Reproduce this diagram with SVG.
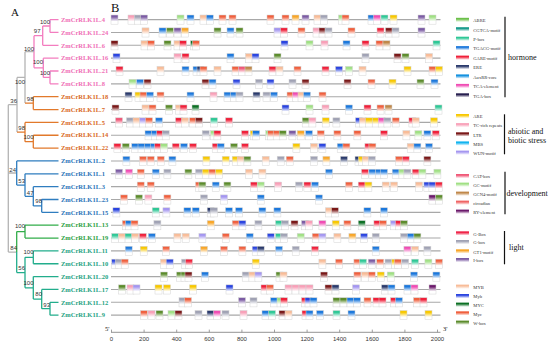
<svg xmlns="http://www.w3.org/2000/svg" width="550" height="344" viewBox="0 0 550 344">
<style>
.lb{font-family:"Liberation Serif","Times New Roman",serif;font-weight:bold;font-size:6.5px}
.cp{fill:#ef6fb6}.co{fill:#d9691c}.cb{fill:#2a74b8}.cg{fill:#2a9e3e}.ct{fill:#1ea282}
.bs{font-family:"Liberation Sans",Arial,sans-serif;font-size:6px;fill:#333;text-anchor:end}
.gl{stroke:#a8a8a8;stroke-width:1.1}
.tr{fill:none;stroke-width:1.3}
.sp{stroke:#f37dbf}.so{stroke:#e2792b}.sb{stroke:#2f7dbf}.sg{stroke:#32ad4a}.st{stroke:#22ad8c}.sy{stroke:#b4b4b4}
.lt{font-family:"Liberation Serif","Times New Roman",serif;font-size:4.6px;fill:#333}
.cat{font-family:"Liberation Serif","Times New Roman",serif;font-size:8px;fill:#111}
.br{stroke:#111;stroke-width:1.2}
.ax{font-family:"Liberation Sans",Arial,sans-serif;font-size:6px;fill:#333;text-anchor:middle}
.pl{font-family:"Liberation Serif","Times New Roman",serif;fill:#111}
.ab{fill:url(#g-ab)}.tl{fill:url(#g-tl)}.pb{fill:url(#g-pb)}.bl{fill:url(#g-bl)}.rd{fill:url(#g-rd)}.nv{fill:url(#g-nv)}.ax2{fill:url(#g-ax)}.pk{fill:url(#g-pk)}.dk{fill:url(#g-dk)}
.ye{fill:url(#g-ye)}.lp{fill:url(#g-lp)}.brn{fill:url(#g-br)}.sk{fill:url(#g-sk)}.lv{fill:url(#g-lv)}
.ca{fill:url(#g-ca)}.gc{fill:url(#g-gc)}.gn{fill:url(#g-gn)}.ci{fill:url(#g-ci)}.ry{fill:url(#g-ry)}
.gB{fill:url(#g-gB)}.gx{fill:url(#g-gx)}.gt{fill:url(#g-gt)}.ib{fill:url(#g-ib)}
.my{fill:url(#g-my)}.mb{fill:url(#g-mb)}.mc{fill:url(#g-mc)}.mr{fill:url(#g-mr)}.wb{fill:url(#g-wb)}
</style>
<defs>
<linearGradient id="g-ab" x2="0" y2="1"><stop offset="0" stop-color="#6cc04a"/><stop offset=".2" stop-color="#6cc04a"/><stop offset=".7" stop-color="#fff"/></linearGradient>
<linearGradient id="g-tl" x2="0" y2="1"><stop offset="0" stop-color="#14998a"/><stop offset=".2" stop-color="#14998a"/><stop offset=".7" stop-color="#fff"/></linearGradient>
<linearGradient id="g-pb" x2="0" y2="1"><stop offset="0" stop-color="#2fc896"/><stop offset=".2" stop-color="#2fc896"/><stop offset=".7" stop-color="#fff"/></linearGradient>
<linearGradient id="g-bl" x2="0" y2="1"><stop offset="0" stop-color="#1c78dc"/><stop offset=".2" stop-color="#1c78dc"/><stop offset=".7" stop-color="#fff"/></linearGradient>
<linearGradient id="g-rd" x2="0" y2="1"><stop offset="0" stop-color="#f0203a"/><stop offset=".2" stop-color="#f0203a"/><stop offset=".7" stop-color="#fff"/></linearGradient>
<linearGradient id="g-nv" x2="0" y2="1"><stop offset="0" stop-color="#2a3a6c"/><stop offset=".2" stop-color="#2a3a6c"/><stop offset=".7" stop-color="#fff"/></linearGradient>
<linearGradient id="g-ax" x2="0" y2="1"><stop offset="0" stop-color="#1592e0"/><stop offset=".2" stop-color="#1592e0"/><stop offset=".7" stop-color="#fff"/></linearGradient>
<linearGradient id="g-pk" x2="0" y2="1"><stop offset="0" stop-color="#f04cb4"/><stop offset=".2" stop-color="#f04cb4"/><stop offset=".7" stop-color="#fff"/></linearGradient>
<linearGradient id="g-dk" x2="0" y2="1"><stop offset="0" stop-color="#282050"/><stop offset=".2" stop-color="#282050"/><stop offset=".7" stop-color="#fff"/></linearGradient>
<linearGradient id="g-ye" x2="0" y2="1"><stop offset="0" stop-color="#f8c800"/><stop offset=".2" stop-color="#f8c800"/><stop offset=".7" stop-color="#fff"/></linearGradient>
<linearGradient id="g-lp" x2="0" y2="1"><stop offset="0" stop-color="#f8a0b8"/><stop offset=".2" stop-color="#f8a0b8"/><stop offset=".7" stop-color="#fff"/></linearGradient>
<linearGradient id="g-br" x2="0" y2="1"><stop offset="0" stop-color="#7a1818"/><stop offset=".2" stop-color="#7a1818"/><stop offset=".7" stop-color="#fff"/></linearGradient>
<linearGradient id="g-sk" x2="0" y2="1"><stop offset="0" stop-color="#12b4f0"/><stop offset=".2" stop-color="#12b4f0"/><stop offset=".7" stop-color="#fff"/></linearGradient>
<linearGradient id="g-lv" x2="0" y2="1"><stop offset="0" stop-color="#a496f0"/><stop offset=".2" stop-color="#a496f0"/><stop offset=".7" stop-color="#fff"/></linearGradient>
<linearGradient id="g-ca" x2="0" y2="1"><stop offset="0" stop-color="#f05878"/><stop offset=".2" stop-color="#f05878"/><stop offset=".7" stop-color="#fff"/></linearGradient>
<linearGradient id="g-gc" x2="0" y2="1"><stop offset="0" stop-color="#a0e084"/><stop offset=".2" stop-color="#a0e084"/><stop offset=".7" stop-color="#fff"/></linearGradient>
<linearGradient id="g-gn" x2="0" y2="1"><stop offset="0" stop-color="#c0884a"/><stop offset=".2" stop-color="#c0884a"/><stop offset=".7" stop-color="#fff"/></linearGradient>
<linearGradient id="g-ci" x2="0" y2="1"><stop offset="0" stop-color="#f06464"/><stop offset=".2" stop-color="#f06464"/><stop offset=".7" stop-color="#fff"/></linearGradient>
<linearGradient id="g-ry" x2="0" y2="1"><stop offset="0" stop-color="#6c1a6c"/><stop offset=".2" stop-color="#6c1a6c"/><stop offset=".7" stop-color="#fff"/></linearGradient>
<linearGradient id="g-gB" x2="0" y2="1"><stop offset="0" stop-color="#f0264a"/><stop offset=".2" stop-color="#f0264a"/><stop offset=".7" stop-color="#fff"/></linearGradient>
<linearGradient id="g-gx" x2="0" y2="1"><stop offset="0" stop-color="#a0a2b4"/><stop offset=".2" stop-color="#a0a2b4"/><stop offset=".7" stop-color="#fff"/></linearGradient>
<linearGradient id="g-gt" x2="0" y2="1"><stop offset="0" stop-color="#f8a628"/><stop offset=".2" stop-color="#f8a628"/><stop offset=".7" stop-color="#fff"/></linearGradient>
<linearGradient id="g-ib" x2="0" y2="1"><stop offset="0" stop-color="#7c5ca4"/><stop offset=".2" stop-color="#7c5ca4"/><stop offset=".7" stop-color="#fff"/></linearGradient>
<linearGradient id="g-my" x2="0" y2="1"><stop offset="0" stop-color="#f8bc98"/><stop offset=".2" stop-color="#f8bc98"/><stop offset=".7" stop-color="#fff"/></linearGradient>
<linearGradient id="g-mb" x2="0" y2="1"><stop offset="0" stop-color="#2a44e0"/><stop offset=".2" stop-color="#2a44e0"/><stop offset=".7" stop-color="#fff"/></linearGradient>
<linearGradient id="g-mc" x2="0" y2="1"><stop offset="0" stop-color="#0c7024"/><stop offset=".2" stop-color="#0c7024"/><stop offset=".7" stop-color="#fff"/></linearGradient>
<linearGradient id="g-mr" x2="0" y2="1"><stop offset="0" stop-color="#f0603e"/><stop offset=".2" stop-color="#f0603e"/><stop offset=".7" stop-color="#fff"/></linearGradient>
<linearGradient id="g-wb" x2="0" y2="1"><stop offset="0" stop-color="#5c8c2c"/><stop offset=".2" stop-color="#5c8c2c"/><stop offset=".7" stop-color="#fff"/></linearGradient>
<rect id="b" y="-4.6" width="7" height="9.2" stroke="#d4d4d4" stroke-width="0.5"/>
<rect id="s" width="13" height="6"/>
</defs>
<rect width="550" height="344" fill="#fff"/>
<text class="pl" x="11" y="15.5" font-size="11">A</text>
<text class="pl" x="111" y="12" font-size="12.5">B</text>

<g id="connectors">
<path class="tr sp" d="M50,19.6V32.45M50,19.6H58.5M50,32.45H58.5M42.7,26V45.3M42.7,26H50M42.7,45.3H58.5M50,71V83.85M50,71H58.5M50,83.85H58.5M43.3,58.15V77.4M43.3,58.15H58.5M43.3,77.4H50M34,35.65V67.8M34,35.65H42.7M34,67.8H43.3"/>
<path class="tr sy" d="M25,51.7H34M25,51.7V103.1M17,77.4V132.05M17,77.4H25M8.3,104.7V252.1M8.3,104.7H17M8.3,173H16.7M8.3,252.1H16.7"/>
<path class="tr so" d="M25,103.1H33.3M33.3,96.7V109.55M33.3,96.7H58.5M33.3,109.55H58.5M33.3,135.25V148.1M33.3,135.25H58.5M33.3,148.1H58.5M25,122.4V141.7M25,122.4H58.5M25,141.7H33.3M17,132.05H25"/>
<path class="tr sb" d="M16.7,160.95V185.05M16.7,160.95H58.5M16.7,185.05H25M25,173.8V196.3M25,173.8H58.5M25,196.3H33.3M33.3,186.65V205.9M33.3,186.65H58.5M33.3,205.9H41.7M41.7,199.5V212.35M41.7,199.5H58.5M41.7,212.35H58.5"/>
<path class="tr sg" d="M16.7,231.6V252.1M16.7,231.6H25M25,225.2V238.05M25,225.2H58.5M25,238.05H58.5"/>
<path class="tr st" d="M16.7,252.1V272.6M16.7,272.6H25M25,257.3V287.85M25,257.3H33.3M25,287.85H33.3M33.3,250.9V263.75M33.3,250.9H58.5M33.3,263.75H58.5M33.3,276.6V299.1M33.3,276.6H58.5M33.3,299.1H41.7M41.7,289.45V308.7M41.7,289.45H58.5M41.7,308.7H50M50,302.3V315.15M50,302.3H58.5M50,315.15H58.5"/>
</g>
<g id="bootstrap">
<text class="bs" x="50" y="24">100</text>
<text class="bs" x="40.5" y="33">97</text>
<text class="bs" x="43" y="64">100</text>
<text class="bs" x="50" y="75">100</text>
<text class="bs" x="34" y="51">100</text>
<text class="bs" x="25" y="84">100</text>
<text class="bs" x="17" y="103">36</text>
<text class="bs" x="33.5" y="101">98</text>
<text class="bs" x="25" y="130">98</text>
<text class="bs" x="33.5" y="139">100</text>
<text class="bs" x="16" y="172">24</text>
<text class="bs" x="25" y="183">53</text>
<text class="bs" x="33.5" y="195">47</text>
<text class="bs" x="42" y="203">98</text>
<text class="bs" x="25" y="228">100</text>
<text class="bs" x="17" y="250">84</text>
<text class="bs" x="33.5" y="254">100</text>
<text class="bs" x="25" y="270">56</text>
<text class="bs" x="33.5" y="285">100</text>
<text class="bs" x="42" y="296">80</text>
<text class="bs" x="50" y="307">93</text>
</g>

<g id="gene-L4" transform="translate(0,19.6)"><text class="lb cp" x="61" y="2.2">ZmCrRLK1L.4</text><line class="gl" x1="111" x2="440.5"/><g transform="translate(-1,0)"><use href="#b" x="112" class="ib"/><use href="#b" x="129" class="lp"/><use href="#b" x="135.3" class="gx"/><use href="#b" x="141.6" class="ib"/><use href="#b" x="178" class="gc"/><use href="#b" x="188" class="bl"/><use href="#b" x="201" class="my"/><use href="#b" x="207.3" class="bl"/><use href="#b" x="220" class="mr"/><use href="#b" x="230" class="mr"/><use href="#b" x="268" class="mr"/><use href="#b" x="283" class="mr"/><use href="#b" x="293" class="gt"/><use href="#b" x="303" class="ib"/><use href="#b" x="315" class="my"/><use href="#b" x="321.3" class="gx"/><use href="#b" x="339.5" class="gc"/><use href="#b" x="343" class="mr"/><use href="#b" x="369" class="bl"/><use href="#b" x="374.5" class="pk"/><use href="#b" x="382" class="pb"/><use href="#b" x="391" class="ye"/><use href="#b" x="419" class="ib"/><use href="#b" x="430" class="gc"/></g></g>
<g id="gene-L24" transform="translate(0,32.45)"><text class="lb cp" x="61" y="2.2">ZmCrRLK1L.24</text><line class="gl" x1="111" x2="440.5"/><g transform="translate(-1,0)"><use href="#b" x="143" class="my"/><use href="#b" x="160" class="bl"/><use href="#b" x="167.5" class="wb"/><use href="#b" x="175" class="ib"/><use href="#b" x="182.5" class="gt"/><use href="#b" x="215" class="wb"/><use href="#b" x="228" class="bl"/><use href="#b" x="237" class="wb"/><use href="#b" x="275" class="lv"/><use href="#b" x="281.5" class="rd"/><use href="#b" x="299" class="mr"/><use href="#b" x="314" class="lp"/><use href="#b" x="320" class="brn"/><use href="#b" x="326" class="gx"/><use href="#b" x="349" class="mr"/><use href="#b" x="378" class="rd"/><use href="#b" x="386.5" class="brn"/><use href="#b" x="393" class="gx"/><use href="#b" x="419" class="ib"/></g></g>
<g id="gene-L6" transform="translate(0,45.3)"><text class="lb cp" x="61" y="2.2">ZmCrRLK1L.6</text><line class="gl" x1="111" x2="440.5"/><g transform="translate(-1,0)"><use href="#b" x="112" class="brn"/><use href="#b" x="142" class="my"/><use href="#b" x="148.5" class="mr"/><use href="#b" x="165" class="wb"/><use href="#b" x="175" class="my"/><use href="#b" x="180.5" class="rd"/><use href="#b" x="191.5" class="mc"/><use href="#b" x="193.5" class="mr"/><use href="#b" x="282" class="mb"/><use href="#b" x="307" class="gc"/><use href="#b" x="322" class="lp"/><use href="#b" x="344" class="bl"/><use href="#b" x="363" class="rd"/><use href="#b" x="377" class="mr"/><use href="#b" x="384" class="gn"/><use href="#b" x="434" class="pb"/></g></g>
<g id="gene-L16" transform="translate(0,58.15)"><text class="lb cp" x="61" y="2.2">ZmCrRLK1L.16</text><line class="gl" x1="111" x2="440.5"/><g transform="translate(-1,0)"><use href="#b" x="114" class="mb"/><use href="#b" x="175" class="lp"/><use href="#b" x="183" class="rd"/><use href="#b" x="228" class="bl"/><use href="#b" x="246.5" class="my"/><use href="#b" x="253" class="mb"/><use href="#b" x="275" class="wb"/><use href="#b" x="363" class="gx"/><use href="#b" x="395" class="brn"/><use href="#b" x="403" class="wb"/><use href="#b" x="426.5" class="my"/></g></g>
<g id="gene-L21" transform="translate(0,71)"><text class="lb cp" x="61" y="2.2">ZmCrRLK1L.21</text><line class="gl" x1="111" x2="440.5"/><g transform="translate(-1,0)"><use href="#b" x="117" class="rd"/><use href="#b" x="158" class="my"/><use href="#b" x="183" class="bl"/><use href="#b" x="194" class="bl"/><use href="#b" x="198" class="nv"/><use href="#b" x="201" class="mr"/><use href="#b" x="215" class="my"/><use href="#b" x="233" class="mr"/><use href="#b" x="239.5" class="ca"/><use href="#b" x="246" class="gn"/><use href="#b" x="270" class="rd"/><use href="#b" x="277" class="my"/><use href="#b" x="295" class="mr"/><use href="#b" x="323" class="rd"/><use href="#b" x="336.5" class="mb"/><use href="#b" x="346.5" class="gc"/><use href="#b" x="360" class="my"/><use href="#b" x="405" class="ye"/><use href="#b" x="430" class="mr"/><use href="#b" x="436.5" class="ye"/></g></g>
<g id="gene-L8" transform="translate(0,83.85)"><text class="lb cp" x="61" y="2.2">ZmCrRLK1L.8</text><line class="gl" x1="111" x2="440.5"/><g transform="translate(-1,0)"><use href="#b" x="130" class="gc"/><use href="#b" x="137.5" class="bl"/><use href="#b" x="145" class="brn"/><use href="#b" x="203" class="brn"/><use href="#b" x="210" class="bl"/><use href="#b" x="234" class="mb"/><use href="#b" x="256.5" class="gx"/><use href="#b" x="268" class="mb"/><use href="#b" x="290" class="gx"/><use href="#b" x="303" class="brn"/><use href="#b" x="345" class="brn"/><use href="#b" x="369" class="mr"/><use href="#b" x="390" class="ye"/><use href="#b" x="418" class="wb"/><use href="#b" x="432" class="bl"/></g></g>
<g id="gene-L18" transform="translate(0,96.7)"><text class="lb co" x="61" y="2.2">ZmCrRLK1L.18</text><line class="gl" x1="111" x2="440.5"/><g transform="translate(-1,0)"><use href="#b" x="126" class="nv"/><use href="#b" x="136" class="ye"/><use href="#b" x="141" class="mr"/><use href="#b" x="147.5" class="bl"/><use href="#b" x="158" class="mr"/><use href="#b" x="188" class="bl"/><use href="#b" x="211" class="lp"/><use href="#b" x="225" class="bl"/><use href="#b" x="231.5" class="bl"/><use href="#b" x="237" class="gx"/><use href="#b" x="254" class="nv"/><use href="#b" x="264" class="gx"/><use href="#b" x="271.5" class="bl"/><use href="#b" x="288" class="mr"/><use href="#b" x="293.5" class="pk"/><use href="#b" x="299" class="my"/><use href="#b" x="304.5" class="bl"/><use href="#b" x="320" class="mr"/></g></g>
<g id="gene-L7" transform="translate(0,109.55)"><text class="lb co" x="61" y="2.2">ZmCrRLK1L.7</text><line class="gl" x1="111" x2="440.5"/><g transform="translate(-1,0)"><use href="#b" x="113" class="brn"/><use href="#b" x="143" class="my"/><use href="#b" x="150" class="mr"/><use href="#b" x="166.5" class="wb"/><use href="#b" x="176.5" class="my"/><use href="#b" x="181" class="rd"/><use href="#b" x="193" class="mc"/><use href="#b" x="283" class="mb"/><use href="#b" x="307" class="gc"/><use href="#b" x="323" class="lp"/><use href="#b" x="346.5" class="bl"/><use href="#b" x="365" class="rd"/><use href="#b" x="378" class="mr"/><use href="#b" x="386" class="gn"/><use href="#b" x="436" class="pb"/></g></g>
<g id="gene-L5" transform="translate(0,122.4)"><text class="lb co" x="61" y="2.2">ZmCrRLK1L.5</text><line class="gl" x1="111" x2="440.5"/><g transform="translate(-2.8,0)"><use href="#b" x="118.3" class="ca"/><use href="#b" x="129.3" class="gx"/><use href="#b" x="135.8" class="my"/><use href="#b" x="142.3" class="lv"/><use href="#b" x="148.3" class="mr"/><use href="#b" x="158.3" class="bl"/><use href="#b" x="178.3" class="rd"/><use href="#b" x="184.3" class="my"/><use href="#b" x="192.3" class="mr"/><use href="#b" x="198.3" class="brn"/><use href="#b" x="213.3" class="pb"/><use href="#b" x="228.3" class="rd"/><use href="#b" x="305" class="wb"/><use href="#b" x="311.7" class="lp"/><use href="#b" x="325" class="ye"/><use href="#b" x="335.7" class="gx"/><use href="#b" x="358.3" class="mb"/><use href="#b" x="362.3" class="my"/><use href="#b" x="368.3" class="ye"/><use href="#b" x="375" class="ye"/><use href="#b" x="381" class="pk"/><use href="#b" x="386.7" class="gx"/><use href="#b" x="395" class="mr"/><use href="#b" x="411.7" class="rd"/><use href="#b" x="415" class="my"/><use href="#b" x="433.3" class="ye"/></g></g>
<g id="gene-L14" transform="translate(0,135.25)"><text class="lb co" x="61" y="2.2">ZmCrRLK1L.14</text><line class="gl" x1="111" x2="440.5"/><g transform="translate(-2.8,0)"><use href="#b" x="147.8" class="bl"/><use href="#b" x="154.3" class="bl"/><use href="#b" x="159.5" class="rd"/><use href="#b" x="165" class="gx"/><use href="#b" x="205" class="gx"/><use href="#b" x="213.3" class="gc"/><use href="#b" x="216.7" class="rd"/><use href="#b" x="244.3" class="rd"/><use href="#b" x="253" class="ye"/><use href="#b" x="255.5" class="bl"/><use href="#b" x="268.5" class="gc"/><use href="#b" x="270.5" class="mr"/><use href="#b" x="276" class="mr"/><use href="#b" x="282" class="wb"/><use href="#b" x="291.7" class="ib"/><use href="#b" x="300" class="gt"/><use href="#b" x="308.3" class="bl"/><use href="#b" x="320" class="mr"/><use href="#b" x="336.7" class="mr"/><use href="#b" x="356.7" class="mr"/><use href="#b" x="383.3" class="rd"/><use href="#b" x="405.7" class="my"/><use href="#b" x="417.7" class="gc"/><use href="#b" x="426.7" class="bl"/><use href="#b" x="435" class="rd"/></g></g>
<g id="gene-L22" transform="translate(0,148.1)"><text class="lb co" x="61" y="2.2">ZmCrRLK1L.22</text><line class="gl" x1="111" x2="440.5"/><g transform="translate(-2.8,0)"><use href="#b" x="116.7" class="rd"/><use href="#b" x="125" class="wb"/><use href="#b" x="134.5" class="bl"/><use href="#b" x="140.8" class="bl"/><use href="#b" x="147.1" class="bl"/><use href="#b" x="153.4" class="bl"/><use href="#b" x="157.5" class="rd"/><use href="#b" x="163.3" class="gc"/><use href="#b" x="175" class="rd"/><use href="#b" x="183.3" class="bl"/><use href="#b" x="192.3" class="rd"/><use href="#b" x="215" class="rd"/><use href="#b" x="220" class="bl"/><use href="#b" x="233.3" class="wb"/><use href="#b" x="244.3" class="rd"/><use href="#b" x="295.7" class="ye"/><use href="#b" x="313.3" class="my"/><use href="#b" x="321.7" class="mb"/><use href="#b" x="340" class="bl"/><use href="#b" x="345.7" class="mr"/><use href="#b" x="367.7" class="rd"/><use href="#b" x="371.7" class="mr"/><use href="#b" x="410" class="my"/><use href="#b" x="416.7" class="bl"/><use href="#b" x="428.3" class="bl"/></g></g>
<g id="gene-L2" transform="translate(0,160.95)"><text class="lb cb" x="61" y="2.2">ZmCrRLK1L.2</text><line class="gl" x1="111" x2="440.5"/><g transform="translate(-2.8,0)"><use href="#b" x="125.7" class="bl"/><use href="#b" x="142.3" class="mr"/><use href="#b" x="150" class="mr"/><use href="#b" x="160" class="mr"/><use href="#b" x="171.7" class="bl"/><use href="#b" x="205.7" class="ye"/><use href="#b" x="225" class="ye"/><use href="#b" x="235" class="ye"/><use href="#b" x="240" class="my"/><use href="#b" x="246.7" class="wb"/><use href="#b" x="265" class="my"/><use href="#b" x="280" class="gx"/><use href="#b" x="289" class="mr"/><use href="#b" x="313.3" class="gx"/><use href="#b" x="325.7" class="gt"/><use href="#b" x="343.3" class="nv"/><use href="#b" x="357.8" class="nv"/><use href="#b" x="361.1" class="ye"/><use href="#b" x="365.1" class="my"/><use href="#b" x="371.1" class="gx"/><use href="#b" x="398.3" class="mr"/><use href="#b" x="405" class="rd"/><use href="#b" x="426.7" class="brn"/></g></g>
<g id="gene-L1" transform="translate(0,173.8)"><text class="lb cb" x="61" y="2.2">ZmCrRLK1L.1</text><line class="gl" x1="111" x2="440.5"/><g transform="translate(-2.8,0)"><use href="#b" x="118.3" class="ib"/><use href="#b" x="128.3" class="pk"/><use href="#b" x="140" class="mr"/><use href="#b" x="155" class="bl"/><use href="#b" x="166.7" class="gx"/><use href="#b" x="187.7" class="wb"/><use href="#b" x="198.3" class="gx"/><use href="#b" x="205" class="ye"/><use href="#b" x="211.7" class="mr"/><use href="#b" x="218.3" class="ye"/><use href="#b" x="248.3" class="my"/><use href="#b" x="261.7" class="my"/><use href="#b" x="328.3" class="bl"/><use href="#b" x="364.3" class="rd"/><use href="#b" x="371.7" class="bl"/><use href="#b" x="378.3" class="bl"/><use href="#b" x="383.3" class="bl"/><use href="#b" x="395" class="bl"/><use href="#b" x="401.7" class="gc"/><use href="#b" x="406.7" class="gx"/><use href="#b" x="415" class="rd"/><use href="#b" x="421.7" class="gc"/><use href="#b" x="436.7" class="gc"/></g></g>
<g id="gene-L3" transform="translate(0,186.65)"><text class="lb cb" x="61" y="2.2">ZmCrRLK1L.3</text><line class="gl" x1="111" x2="440.5"/><g transform="translate(-2.8,0)"><use href="#b" x="140" class="mr"/><use href="#b" x="150" class="mr"/><use href="#b" x="198.3" class="mr"/><use href="#b" x="201.7" class="wb"/><use href="#b" x="215" class="bl"/><use href="#b" x="226.7" class="wb"/><use href="#b" x="253.3" class="rd"/><use href="#b" x="260" class="gc"/><use href="#b" x="277.5" class="lp"/><use href="#b" x="298.3" class="gx"/><use href="#b" x="306.7" class="rd"/><use href="#b" x="314.3" class="bl"/><use href="#b" x="348.3" class="mr"/><use href="#b" x="361" class="rd"/><use href="#b" x="367.7" class="ye"/><use href="#b" x="385" class="my"/><use href="#b" x="393.3" class="my"/><use href="#b" x="418.3" class="my"/><use href="#b" x="426.7" class="mb"/><use href="#b" x="431.7" class="mb"/><use href="#b" x="438" class="rd"/></g></g>
<g id="gene-L23" transform="translate(0,199.5)"><text class="lb cb" x="61" y="2.2">ZmCrRLK1L.23</text><line class="gl" x1="111" x2="440.5"/><g transform="translate(-2.8,0)"><use href="#b" x="123.3" class="mr"/><use href="#b" x="138.3" class="wb"/><use href="#b" x="147.7" class="lp"/><use href="#b" x="166.7" class="mr"/><use href="#b" x="203.3" class="gx"/><use href="#b" x="223.3" class="lv"/><use href="#b" x="260" class="bl"/><use href="#b" x="318.3" class="bl"/><use href="#b" x="431.7" class="ry"/><use href="#b" x="438.3" class="wb"/></g></g>
<g id="gene-L15" transform="translate(0,212.35)"><text class="lb cb" x="61" y="2.2">ZmCrRLK1L.15</text><line class="gl" x1="111" x2="440.5"/><g transform="translate(-2.8,0)"><use href="#b" x="115.7" class="mb"/><use href="#b" x="155" class="pb"/><use href="#b" x="165.7" class="lv"/><use href="#b" x="186.7" class="bl"/><use href="#b" x="195" class="bl"/><use href="#b" x="210" class="nv"/><use href="#b" x="213.3" class="gx"/><use href="#b" x="228.3" class="bl"/><use href="#b" x="238.3" class="bl"/><use href="#b" x="261.7" class="bl"/><use href="#b" x="276.7" class="bl"/><use href="#b" x="328.3" class="my"/><use href="#b" x="334.3" class="brn"/><use href="#b" x="366.7" class="bl"/><use href="#b" x="383.3" class="bl"/></g></g>
<g id="gene-L13" transform="translate(0,225.2)"><text class="lb cg" x="61" y="2.2">ZmCrRLK1L.13</text><line class="gl" x1="111" x2="440.5"/><g transform="translate(-2.8,0)"><use href="#b" x="125.1" class="mr"/><use href="#b" x="128.3" class="bl"/><use href="#b" x="133.8" class="mr"/><use href="#b" x="156.7" class="gx"/><use href="#b" x="210" class="gt"/><use href="#b" x="235" class="mr"/><use href="#b" x="241.7" class="mb"/><use href="#b" x="257.7" class="gx"/><use href="#b" x="278.3" class="pb"/><use href="#b" x="284.3" class="gx"/><use href="#b" x="293.8" class="brn"/><use href="#b" x="304.3" class="ib"/><use href="#b" x="308.3" class="lp"/><use href="#b" x="321.7" class="pk"/><use href="#b" x="335" class="ye"/><use href="#b" x="346.7" class="mr"/><use href="#b" x="361" class="mc"/><use href="#b" x="376.7" class="rd"/><use href="#b" x="382.3" class="mr"/><use href="#b" x="393.3" class="lv"/><use href="#b" x="398.3" class="rd"/><use href="#b" x="403.3" class="wb"/></g></g>
<g id="gene-L19" transform="translate(0,238.05)"><text class="lb cg" x="61" y="2.2">ZmCrRLK1L.19</text><line class="gl" x1="111" x2="440.5"/><g transform="translate(-2.8,0)"><use href="#b" x="114.5" class="pb"/><use href="#b" x="121.1" class="my"/><use href="#b" x="127.8" class="pb"/><use href="#b" x="134.5" class="my"/><use href="#b" x="142.1" class="rd"/><use href="#b" x="151.1" class="bl"/><use href="#b" x="176.7" class="my"/><use href="#b" x="185" class="my"/><use href="#b" x="201.7" class="lv"/><use href="#b" x="225" class="mr"/><use href="#b" x="249" class="bl"/><use href="#b" x="270" class="mb"/><use href="#b" x="278.3" class="pb"/><use href="#b" x="283.3" class="gx"/><use href="#b" x="300" class="gc"/><use href="#b" x="315" class="mr"/><use href="#b" x="321.7" class="lv"/><use href="#b" x="336.7" class="my"/><use href="#b" x="351.7" class="gt"/><use href="#b" x="363.3" class="mb"/><use href="#b" x="375" class="gx"/><use href="#b" x="403.3" class="gx"/><use href="#b" x="410" class="bl"/><use href="#b" x="416.7" class="wb"/></g></g>
<g id="gene-L11" transform="translate(0,250.9)"><text class="lb ct" x="61" y="2.2">ZmCrRLK1L.11</text><line class="gl" x1="111" x2="440.5"/><g transform="translate(-2.8,0)"><use href="#b" x="128" class="bl"/><use href="#b" x="143" class="ye"/><use href="#b" x="165.5" class="mr"/><use href="#b" x="203.3" class="gt"/><use href="#b" x="223.3" class="mr"/><use href="#b" x="241.7" class="mr"/><use href="#b" x="255" class="mb"/><use href="#b" x="260" class="nv"/><use href="#b" x="278.3" class="bl"/><use href="#b" x="295" class="gx"/><use href="#b" x="314.3" class="rd"/><use href="#b" x="375" class="bl"/><use href="#b" x="406.7" class="pk"/><use href="#b" x="414.3" class="my"/><use href="#b" x="426.7" class="gx"/></g></g>
<g id="gene-L10" transform="translate(0,263.75)"><text class="lb ct" x="61" y="2.2">ZmCrRLK1L.10</text><line class="gl" x1="111" x2="440.5"/><g transform="translate(-2.8,0)"><use href="#b" x="114.5" class="mb"/><use href="#b" x="118" class="gx"/><use href="#b" x="124" class="mr"/><use href="#b" x="163.3" class="my"/><use href="#b" x="169" class="mb"/><use href="#b" x="184.3" class="gx"/><use href="#b" x="188.3" class="rd"/><use href="#b" x="255" class="ye"/><use href="#b" x="321.7" class="my"/><use href="#b" x="338.3" class="mr"/><use href="#b" x="356.7" class="mr"/><use href="#b" x="362.3" class="pb"/><use href="#b" x="371" class="ib"/><use href="#b" x="379.5" class="mr"/><use href="#b" x="387.8" class="gx"/><use href="#b" x="394.5" class="ye"/><use href="#b" x="397.1" class="mr"/><use href="#b" x="404.5" class="gx"/><use href="#b" x="414.3" class="pb"/><use href="#b" x="427.7" class="gc"/><use href="#b" x="438.3" class="mr"/></g></g>
<g id="gene-L20" transform="translate(0,276.6)"><text class="lb ct" x="61" y="2.2">ZmCrRLK1L.20</text><line class="gl" x1="111" x2="440.5"/><g transform="translate(-2.8,0)"><use href="#b" x="163.3" class="wb"/><use href="#b" x="179.3" class="wb"/><use href="#b" x="183.8" class="wb"/><use href="#b" x="187.8" class="brn"/><use href="#b" x="204.3" class="bl"/><use href="#b" x="245" class="gx"/><use href="#b" x="251.7" class="my"/><use href="#b" x="257.7" class="lv"/><use href="#b" x="278.8" class="wb"/><use href="#b" x="282.8" class="my"/><use href="#b" x="323.3" class="brn"/><use href="#b" x="356.7" class="mr"/><use href="#b" x="364.3" class="my"/><use href="#b" x="371" class="mr"/><use href="#b" x="380" class="ye"/><use href="#b" x="390" class="gc"/><use href="#b" x="413.3" class="bl"/><use href="#b" x="435.7" class="bl"/></g></g>
<g id="gene-L17" transform="translate(0,289.45)"><text class="lb ct" x="61" y="2.2">ZmCrRLK1L.17</text><line class="gl" x1="111" x2="440.5"/><g><use href="#b" x="118.5" class="wb"/><use href="#b" x="127" class="lp"/><use href="#b" x="133" class="lv"/><use href="#b" x="155" class="ye"/><use href="#b" x="163.5" class="ye"/><use href="#b" x="189.5" class="ye"/><use href="#b" x="226" class="mb"/><use href="#b" x="261" class="rd"/><use href="#b" x="266.5" class="mr"/><use href="#b" x="285" class="lp"/><use href="#b" x="292" class="lp"/><use href="#b" x="299" class="lp"/><use href="#b" x="306" class="lp"/><use href="#b" x="325" class="brn"/><use href="#b" x="332" class="nv"/><use href="#b" x="352.5" class="lv"/><use href="#b" x="381.5" class="nv"/><use href="#b" x="388" class="bl"/><use href="#b" x="404" class="bl"/><use href="#b" x="411" class="pk"/><use href="#b" x="429" class="ry"/></g></g>
<g id="gene-L12" transform="translate(0,302.3)"><text class="lb ct" x="61" y="2.2">ZmCrRLK1L.12</text><line class="gl" x1="111" x2="440.5"/><g><use href="#b" x="179" class="gx"/><use href="#b" x="184.5" class="mr"/><use href="#b" x="238.5" class="ib"/><use href="#b" x="250" class="gx"/><use href="#b" x="270.5" class="bl"/><use href="#b" x="277" class="gc"/><use href="#b" x="280.5" class="rd"/><use href="#b" x="301.5" class="rd"/><use href="#b" x="305" class="mb"/><use href="#b" x="310" class="bl"/><use href="#b" x="333" class="wb"/><use href="#b" x="340" class="wb"/><use href="#b" x="347" class="bl"/><use href="#b" x="353.5" class="bl"/><use href="#b" x="364" class="mr"/><use href="#b" x="373" class="rd"/><use href="#b" x="379" class="rd"/><use href="#b" x="390.5" class="rd"/><use href="#b" x="395.5" class="bl"/><use href="#b" x="413.5" class="mr"/><use href="#b" x="420" class="rd"/></g></g>
<g id="gene-L9" transform="translate(0,315.15)"><text class="lb ct" x="61" y="2.2">ZmCrRLK1L.9</text><line class="gl" x1="111" x2="440.5"/><g><use href="#b" x="140.5" class="mr"/><use href="#b" x="148" class="lp"/><use href="#b" x="156" class="wb"/><use href="#b" x="168" class="gc"/><use href="#b" x="175" class="brn"/><use href="#b" x="195" class="gx"/><use href="#b" x="207" class="nv"/><use href="#b" x="213.5" class="pk"/><use href="#b" x="222" class="gx"/><use href="#b" x="240" class="lp"/><use href="#b" x="262" class="bl"/><use href="#b" x="268.5" class="pb"/><use href="#b" x="279" class="brn"/><use href="#b" x="285" class="my"/><use href="#b" x="302" class="rd"/><use href="#b" x="306" class="bl"/><use href="#b" x="316.5" class="bl"/><use href="#b" x="333" class="pb"/><use href="#b" x="348" class="bl"/><use href="#b" x="400" class="ye"/><use href="#b" x="425" class="ye"/></g></g>

<g id="axis">
<line x1="111" y1="332.3" x2="440.5" y2="332.3" stroke="#888" stroke-width="0.9"/>
<path d="M111.5,332.3V329.6M144.1,332.3V329.6M176.7,332.3V329.6M209.3,332.3V329.6M241.9,332.3V329.6M274.5,332.3V329.6M307.1,332.3V329.6M339.7,332.3V329.6M372.3,332.3V329.6M404.9,332.3V329.6M437.5,332.3V329.6" stroke="#888" stroke-width="0.8"/>
<text class="ax" x="111.5" y="340.5">0</text><text class="ax" x="144.1" y="340.5">200</text><text class="ax" x="176.7" y="340.5">400</text><text class="ax" x="209.3" y="340.5">600</text><text class="ax" x="241.9" y="340.5">800</text><text class="ax" x="274.5" y="340.5">1000</text><text class="ax" x="307.1" y="340.5">1200</text><text class="ax" x="339.7" y="340.5">1400</text><text class="ax" x="372.3" y="340.5">1600</text><text class="ax" x="404.9" y="340.5">1800</text><text class="ax" x="437.5" y="340.5">2000</text>
<text class="pl" x="105" y="330.5" font-size="6.5">5'</text>
<text class="pl" x="443" y="330.5" font-size="6.5">3'</text>
</g>

<g id="legend-hormone">
<use href="#s" x="456" y="17.8" class="ab"/><text class="lt" x="473.3" y="22.1">ABRE</text>
<use href="#s" x="456" y="27.2" class="tl"/><text class="lt" x="473.3" y="31.5">CGTCA-motif</text>
<use href="#s" x="456" y="36.7" class="pb"/><text class="lt" x="473.3" y="41">P-box</text>
<use href="#s" x="456" y="46.1" class="bl"/><text class="lt" x="473.3" y="50.4">TGACG-motif</text>
<use href="#s" x="456" y="55.6" class="rd"/><text class="lt" x="473.3" y="59.9">GARE-motif</text>
<use href="#s" x="456" y="65" class="nv"/><text class="lt" x="473.3" y="69.3">ERE</text>
<use href="#s" x="456" y="74.4" class="ax2"/><text class="lt" x="473.3" y="78.7">AuxRR-core</text>
<use href="#s" x="456" y="83.9" class="pk"/><text class="lt" x="473.3" y="88.2">TCA-element</text>
<use href="#s" x="456" y="93.3" class="dk"/><text class="lt" x="473.3" y="97.6">TGA-box</text>
<line class="br" x1="505" y1="16.7" x2="505" y2="97.3"/>
<text class="cat" x="508" y="60">hormone</text>
</g>
<g id="legend-stress">
<use href="#s" x="456" y="114" class="ye"/><text class="lt" x="473.3" y="118.3">ARE</text>
<use href="#s" x="456" y="123.1" class="lp"/><text class="lt" x="473.3" y="127.4">TC-rich repeats</text>
<use href="#s" x="456" y="132.3" class="brn"/><text class="lt" x="473.3" y="136.6">LTR</text>
<use href="#s" x="456" y="141.4" class="sk"/><text class="lt" x="473.3" y="145.7">MBS</text>
<use href="#s" x="456" y="150.6" class="lv"/><text class="lt" x="473.3" y="154.9">WUN-motif</text>
<line class="br" x1="504.5" y1="114.3" x2="504.5" y2="154.3"/>
<text class="cat" x="508" y="133.5">abiotic and</text>
<text class="cat" x="508" y="143">biotic stress</text>
</g>
<g id="legend-development">
<use href="#s" x="456" y="174" class="ca"/><text class="lt" x="473.3" y="178.3">CAT-box</text>
<use href="#s" x="456" y="182.6" class="gc"/><text class="lt" x="473.3" y="186.9">GC-motif</text>
<use href="#s" x="456" y="191.6" class="gn"/><text class="lt" x="473.3" y="195.9">GCN4-motif</text>
<use href="#s" x="456" y="200.6" class="ci"/><text class="lt" x="473.3" y="204.9">circadian</text>
<use href="#s" x="456" y="209.6" class="ry"/><text class="lt" x="473.3" y="213.9">RY-element</text>
<line class="br" x1="505" y1="171.7" x2="505" y2="214.3"/>
<text class="cat" x="506.5" y="195.5">development</text>
</g>
<g id="legend-light">
<use href="#s" x="456" y="231.3" class="gB"/><text class="lt" x="473.3" y="235.6">G-Box</text>
<use href="#s" x="456" y="240" class="gx"/><text class="lt" x="473.3" y="244.3">G-box</text>
<use href="#s" x="456" y="249.3" class="gt"/><text class="lt" x="473.3" y="253.6">GT1-motif</text>
<use href="#s" x="456" y="258" class="ib"/><text class="lt" x="473.3" y="262.3">I-box</text>
<line class="br" x1="504.5" y1="231" x2="504.5" y2="264.3"/>
<text class="cat" x="509" y="250">light</text>
</g>
<g id="legend-other">
<use href="#s" x="456" y="284.6" class="my"/><text class="lt" x="473.3" y="288.9">MYB</text>
<use href="#s" x="456" y="294" class="mb"/><text class="lt" x="473.3" y="298.3">Myb</text>
<use href="#s" x="456" y="302.6" class="mc"/><text class="lt" x="473.3" y="306.9">MYC</text>
<use href="#s" x="456" y="311.3" class="mr"/><text class="lt" x="473.3" y="315.6">Myc</text>
<use href="#s" x="456" y="320.6" class="wb"/><text class="lt" x="473.3" y="324.9">W-box</text>
</g>
</svg>
